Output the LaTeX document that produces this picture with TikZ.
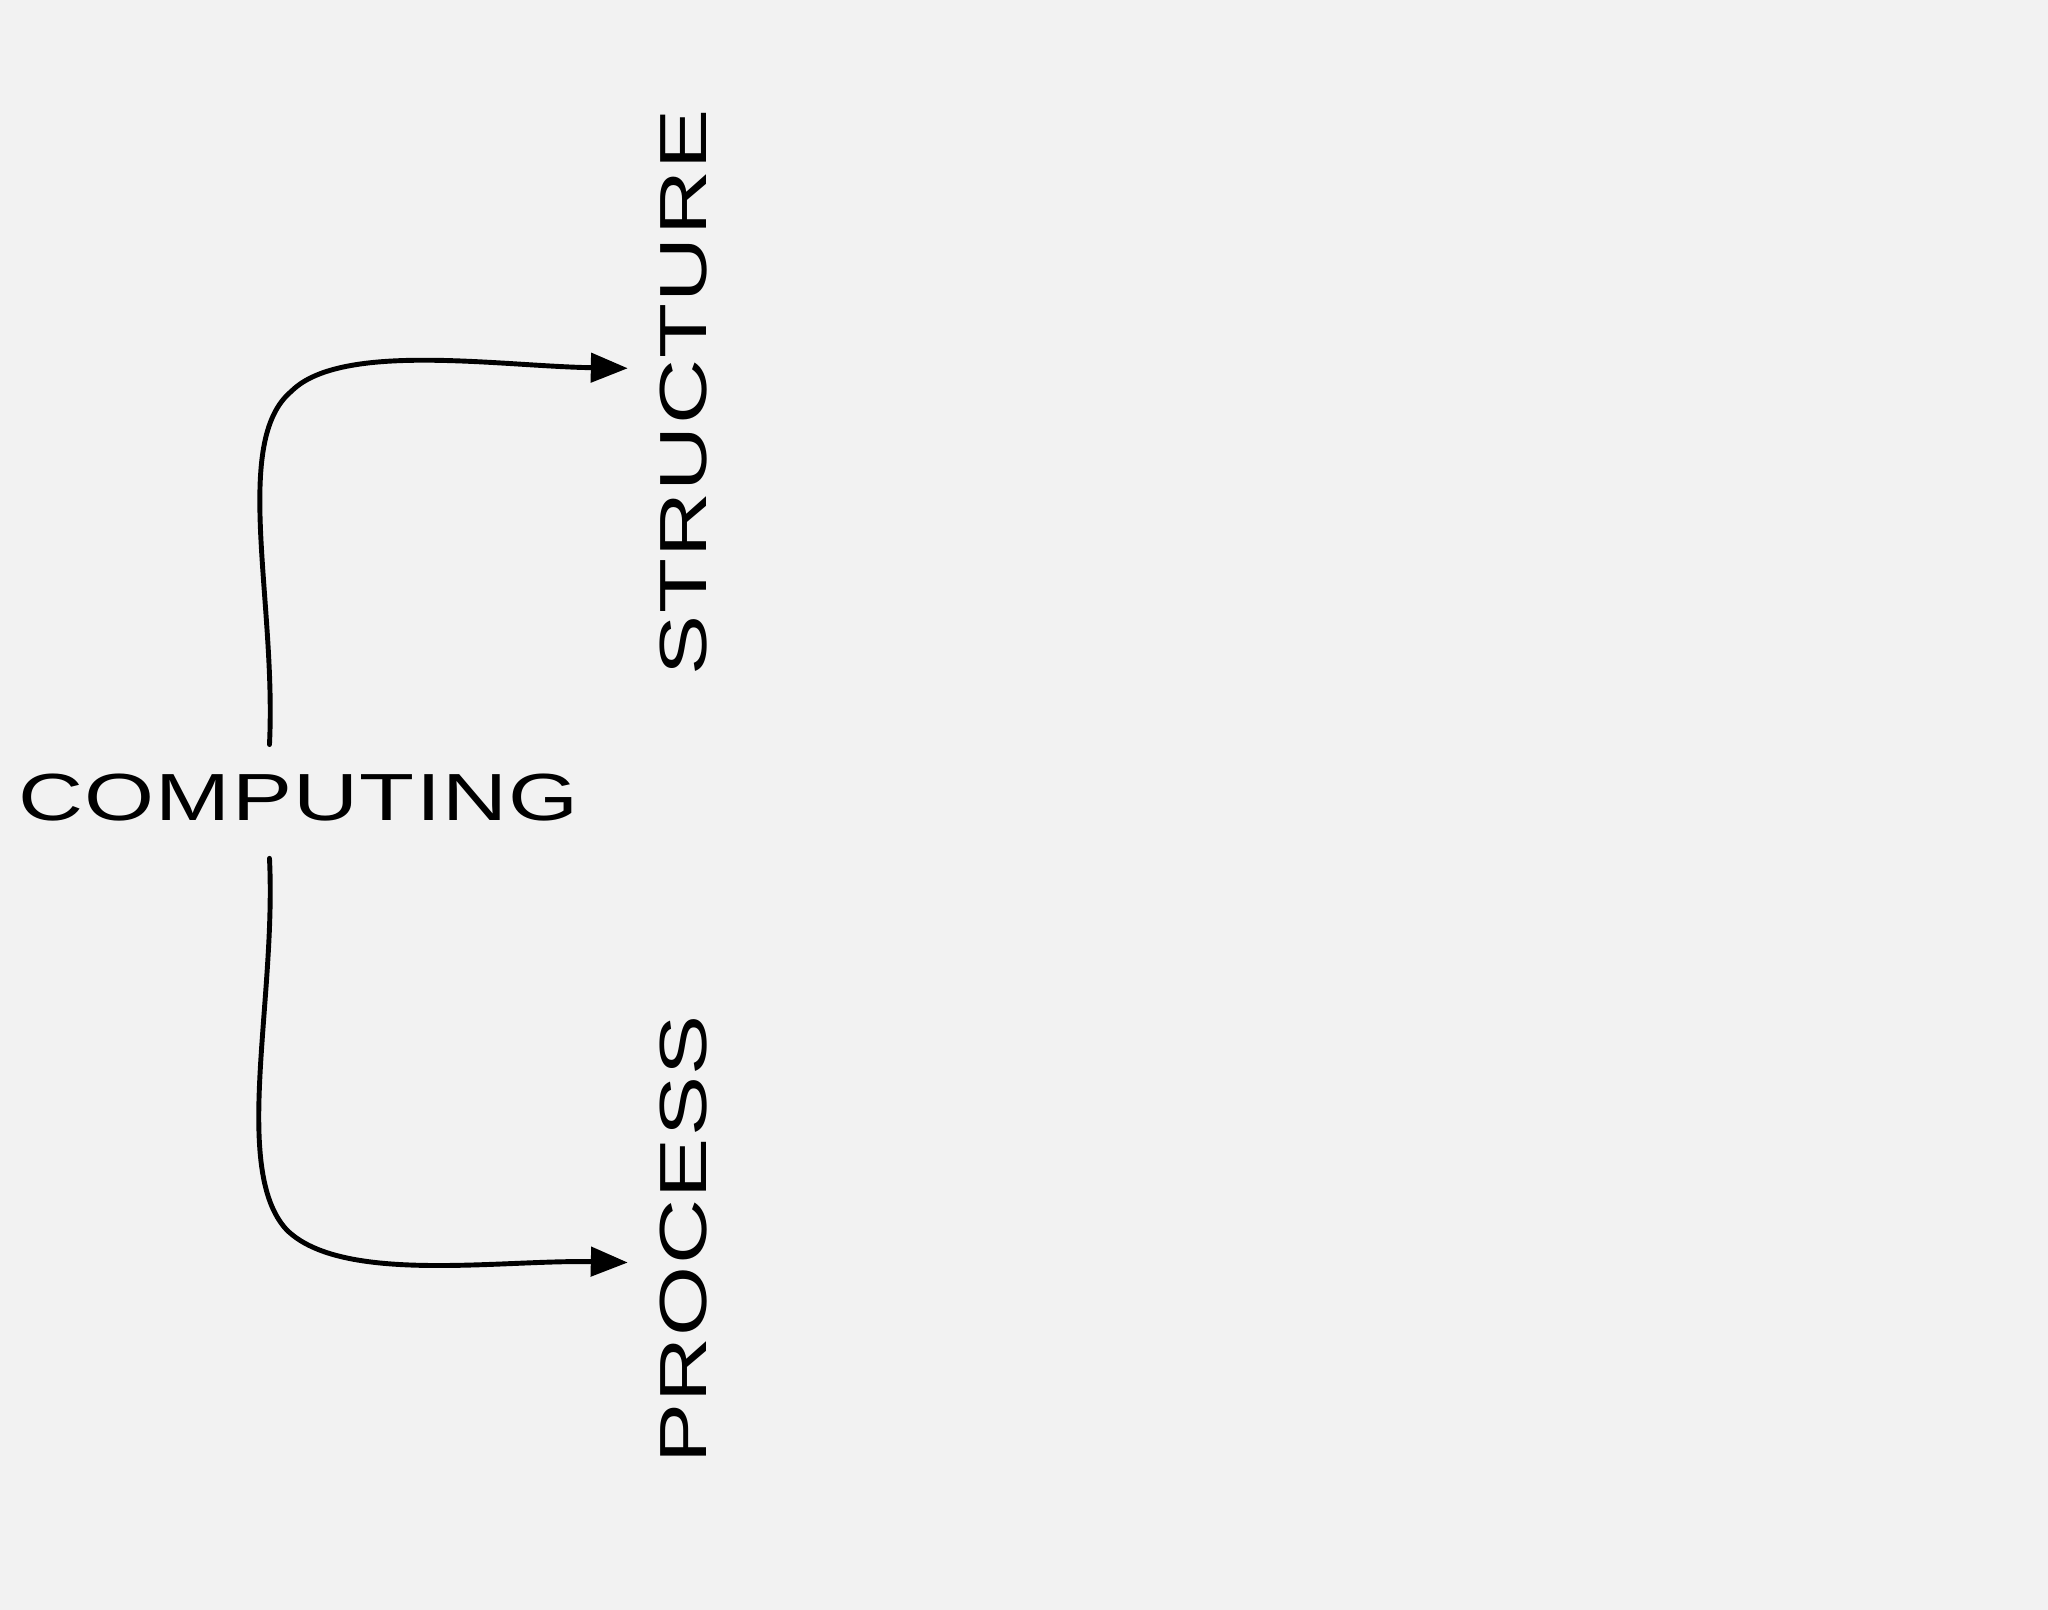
\documentclass[tikz,border=0pt]{standalone}
\usepackage{fontspec}
\setmainfont{Liberation Sans}[FakeStretch=1.35,LetterSpace=2]
\usetikzlibrary{arrows.meta}
\definecolor{bg}{HTML}{F2F2F2}
\tikzset{lbl/.style={inner sep=0pt,font=\fontsize{19}{21}\selectfont},
 conn/.style={line width=1.4pt,line cap=round,-{Triangle[length=0.37cm,width=0.29cm]}}}
\begin{document}
\begin{tikzpicture}[x=0.01cm,y=-0.01cm]
\fill[bg] (-2,-2) rectangle (2050,1611);
\useasboundingbox (0,0) rectangle (2048,1609);
\node[lbl] (comp) at (297,797) {COMPUTING};
\node[lbl,rotate=90] (struct) at (683,391) {STRUCTURE};
\node[lbl,rotate=90] (proc) at (683,1240) {PROCESS};
\coordinate (s0) at (268,744);
\coordinate (s1) at (627,367);
\coordinate (p0) at (268,858);
\coordinate (p1) at (627,1263);
\draw[conn] (s0) .. controls (275,600) and (230,440) .. (290,390) .. controls (340,340) and (500,365) .. (s1);
\draw[conn] (p0) .. controls (275,1000) and (230,1170) .. (285,1230) .. controls (340,1285) and (500,1260) .. (p1);
\end{tikzpicture}
\end{document}
